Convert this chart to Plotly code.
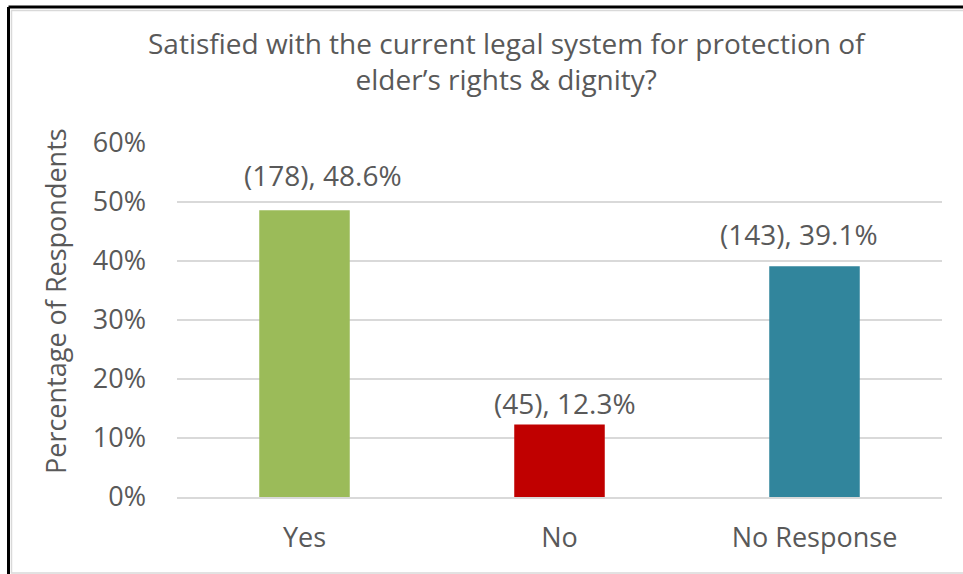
import plotly.graph_objects as go

categories = ["Yes", "No", "No Response"]
counts = [178, 45, 143]
percents = [48.6, 12.3, 39.1]
tick_values = [0, 10, 20, 30, 40, 50, 60]
tick_labels = ["0%", "10%", "20%", "30%", "40%", "50%", "60%"]

bar_colors = ["#9BBB59", "#C00000", "#31859C"]
label_xshift = [18, 5, -16]
label_yshift = [14, 0, 11]

FONT = "Open Sans"
GREY = "#595959"

# plot-area geometry in pixels
W, H = 963, 574
L, R, T, B = 177, 942, 143, 497
pw, ph = R - L, B - T


def px(x):
    return (x - L) / pw


def py(y):
    return (B - y) / ph


fig = go.Figure(
    go.Bar(
        x=categories,
        y=percents,
        marker=dict(color=bar_colors, line=dict(width=0)),
        width=0.355,
        hoverinfo="skip",
    )
)

for cat, n, p, dx, dy in zip(categories, counts, percents, label_xshift, label_yshift):
    fig.add_annotation(
        x=cat, y=p, xref="x", yref="y",
        text=f"({n}), {p}%",
        showarrow=False, yanchor="bottom",
        xshift=dx, yshift=dy,
        font=dict(family=FONT, size=28, color=GREY),
    )

# chart title
fig.add_annotation(
    x=px(507), y=py(61), xref="paper", yref="paper",
    text="Satisfied with the current legal system for protection of<br>elder’s rights & dignity?",
    showarrow=False, xanchor="center", yanchor="middle",
    font=dict(family=FONT, size=28, color=GREY),
)

# vertical axis title
fig.add_annotation(
    x=px(55), y=py(301), xref="paper", yref="paper",
    text="Percentage of Respondents", textangle=-90,
    showarrow=False, xanchor="center", yanchor="middle",
    font=dict(family=FONT, size=27, color=GREY),
)

# outer frame: dark edge top/left, light chart-area border
fig.add_shape(type="line", xref="paper", yref="paper",
              x0=px(8.5), x1=px(W + 5), y0=py(7), y1=py(7),
              line=dict(color="#000000", width=3))
fig.add_shape(type="line", xref="paper", yref="paper",
              x0=px(8.5), x1=px(8.5), y0=py(7), y1=py(W),
              line=dict(color="#000000", width=3))
fig.add_shape(type="line", xref="paper", yref="paper",
              x0=px(11), x1=px(W + 5), y0=py(10.5), y1=py(10.5),
              line=dict(color="#D9D9D9", width=1.5))
fig.add_shape(type="line", xref="paper", yref="paper",
              x0=px(11.5), x1=px(11.5), y0=py(10.5), y1=py(573),
              line=dict(color="#D9D9D9", width=1.5))
fig.add_shape(type="line", xref="paper", yref="paper",
              x0=px(11), x1=px(W + 5), y0=py(573), y1=py(573),
              line=dict(color="#D9D9D9", width=1.5))

fig.update_layout(
    width=W, height=H,
    margin=dict(l=L, r=W - R, t=T, b=H - B),
    paper_bgcolor="white", plot_bgcolor="white",
    showlegend=False,
    xaxis=dict(
        showgrid=False, showline=True, linecolor="#D9D9D9", linewidth=2,
        ticks="", ticklabelstandoff=16,
        tickfont=dict(family=FONT, size=27, color=GREY),
    ),
    yaxis=dict(
        range=[0, 60], tickvals=tick_values, ticktext=tick_labels,
        showgrid=True, gridcolor="#D9D9D9", gridwidth=1.5,
        zeroline=False, showline=False, ticks="", ticklabelstandoff=30,
        tickfont=dict(family=FONT, size=27, color=GREY),
    ),
)

fig.write_html("out.html")
